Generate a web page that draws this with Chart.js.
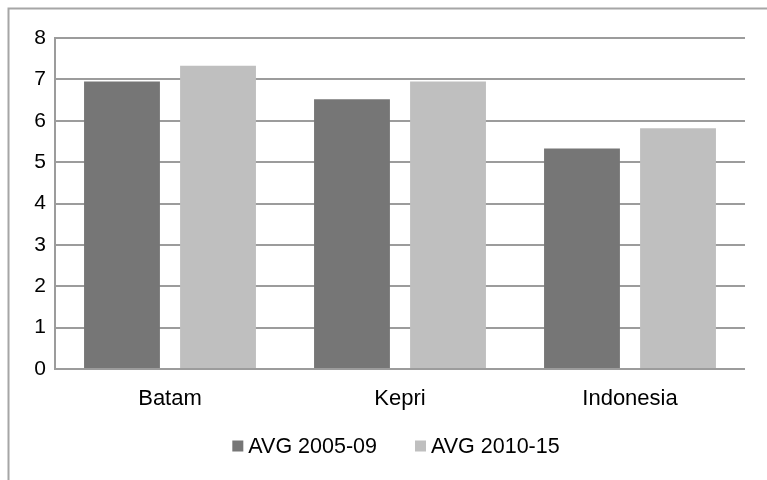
<!DOCTYPE html>
<html>
<head>
<meta charset="utf-8">
<script src="https://cdn.jsdelivr.net/npm/chart.js@4/dist/chart.umd.min.js"></script>
<style>
  html, body { margin: 0; padding: 0; background: #fff; }
  #wrap { width: 767px; height: 480px; position: relative; }
</style>
</head>
<body>
<div id="wrap"><canvas id="c" width="767" height="480"></canvas></div>
<script>
// Regions compared
const categories = ['Batam', 'Kepri', 'Indonesia'];
// Average values per period
const avg2005to09 = [6.95, 6.52, 5.33];
const avg2010to15 = [7.33, 6.95, 5.82];
const seriesLabels = ['AVG 2005-09', 'AVG 2010-15'];
const yTicks = [0, 1, 2, 3, 4, 5, 6, 7, 8];

const FONT = '"Liberation Sans", Arial, sans-serif';

// Outer frame of the chart object
const framePlugin = {
  id: 'frame',
  beforeDraw(chart) {
    const ctx = chart.ctx;
    ctx.save();
    ctx.fillStyle = '#ffffff';
    ctx.fillRect(0, 0, chart.width, chart.height);
    ctx.strokeStyle = '#a6a6a6';
    ctx.lineWidth = 2;
    ctx.strokeRect(8.5, 8.5, chart.width + 20, chart.height + 20);
    ctx.restore();
  }
};

// Bottom legend: small square swatch with a tight gap before the text
const legendPlugin = {
  id: 'tightLegend',
  afterDraw(chart) {
    const ctx = chart.ctx;
    ctx.save();
    ctx.font = '21.5px ' + FONT;
    ctx.textBaseline = 'middle';
    const box = 11, gap = 5, spacing = 38;
    const items = chart.data.datasets.map(ds => ({
      label: ds.label, color: ds.backgroundColor, w: ctx.measureText(ds.label).width
    }));
    let total = 0;
    items.forEach((it, i) => { total += box + gap + it.w + (i ? spacing : 0); });
    const area = chart.chartArea;
    let x = (area.left + area.right) / 2 - 4 - total / 2;
    const cy = 446;
    items.forEach((it, i) => {
      if (i) x += spacing;
      ctx.fillStyle = it.color;
      ctx.fillRect(x, cy - box / 2, box, box);
      x += box + gap;
      ctx.fillStyle = '#000';
      ctx.textAlign = 'left';
      ctx.fillText(it.label, x, cy + 1);
      x += it.w;
    });
    ctx.restore();
  }
};

new Chart(document.getElementById('c'), {
  type: 'bar',
  data: {
    labels: categories,
    datasets: [
      { label: seriesLabels[0], data: avg2005to09, backgroundColor: '#767676', borderWidth: 0 },
      { label: seriesLabels[1], data: avg2010to15, backgroundColor: '#bfbfbf', borderWidth: 0 }
    ]
  },
  options: {
    responsive: false,
    animation: false,
    events: [],
    layout: { padding: { left: 0, top: 38, right: 22, bottom: 51 } },
    datasets: { bar: { categoryPercentage: 0.835, barPercentage: 0.79 } },
    plugins: {
      legend: { display: false },
      tooltip: { enabled: false }
    },
    scales: {
      x: {
        grid: { display: false, drawTicks: false },
        border: { display: false },
        ticks: { color: '#000', font: { family: FONT, size: 22 }, padding: 17 },
        afterFit(scale) { scale.height = 60; }
      },
      y: {
        min: 0,
        max: 8,
        afterBuildTicks(scale) { scale.ticks = yTicks.map(v => ({ value: v })); },
        grid: { color: '#9c9c9c', lineWidth: 2, drawTicks: false },
        border: { display: true, color: '#9c9c9c', width: 2 },
        ticks: { color: '#000', font: { family: FONT, size: 21 }, padding: 9 },
        afterFit(scale) { scale.width = 55; }
      }
    }
  },
  plugins: [framePlugin, legendPlugin]
});
</script>
</body>
</html>
